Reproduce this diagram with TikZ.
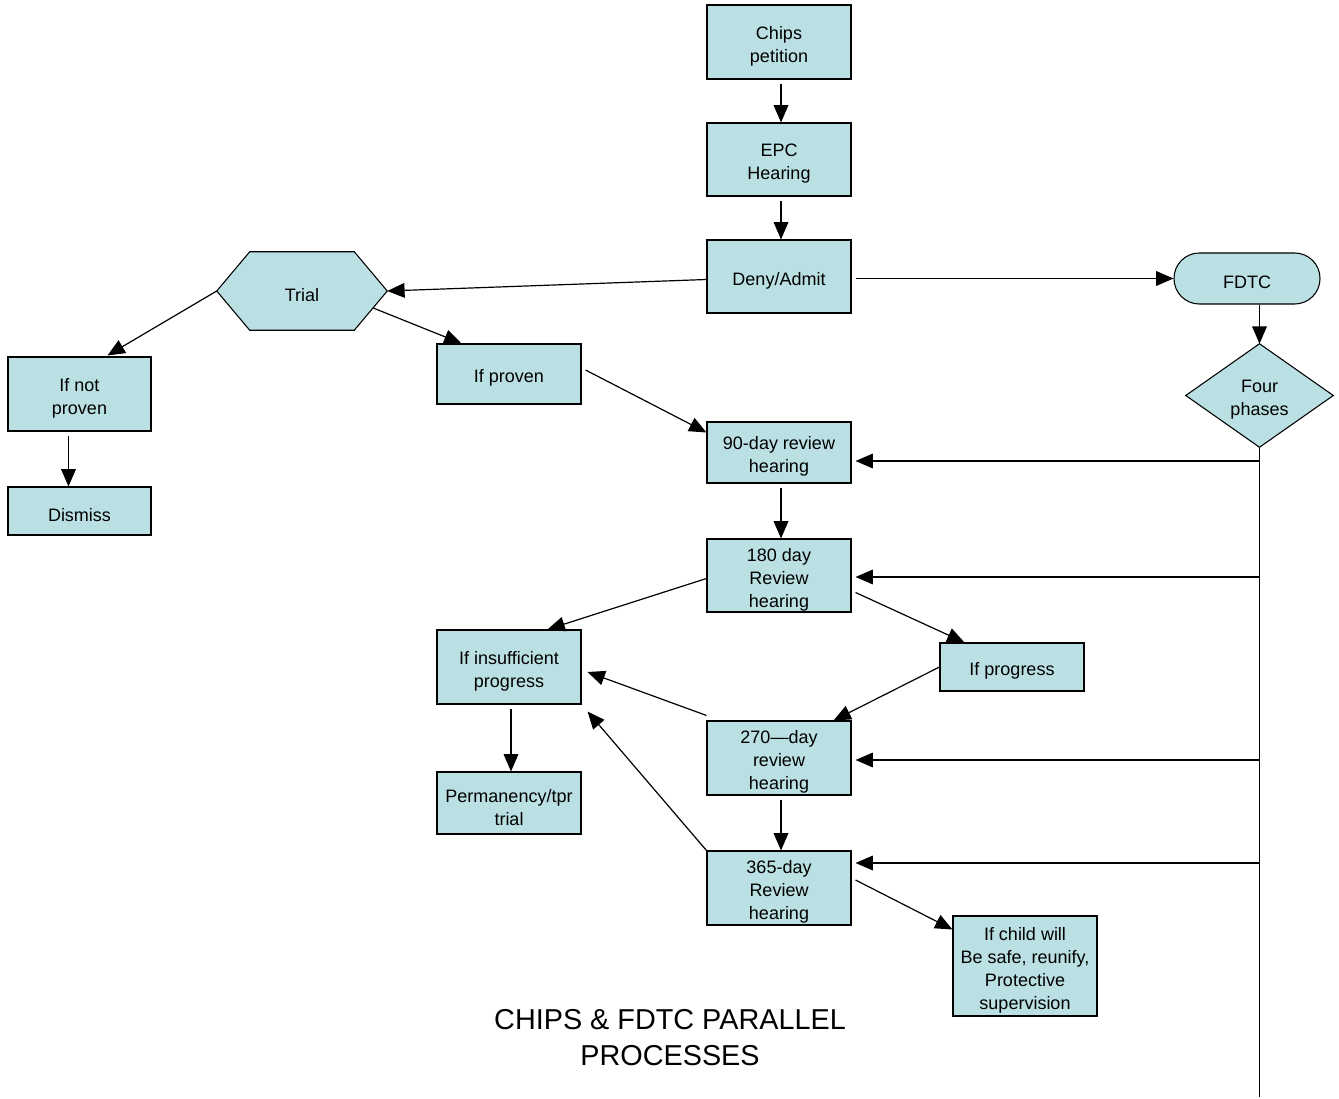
\documentclass[tikz,border=0pt]{standalone}
\usepackage{fontspec}
\setmainfont{Liberation Sans}
\usetikzlibrary{arrows.meta,calc}
\definecolor{boxfill}{RGB}{187,224,227}
\begin{document}
\begin{tikzpicture}[x=0.75pt,y=-0.75pt,
  every node/.style={font=\fontsize{13.5pt}{17.25pt}\selectfont, align=center, inner sep=0pt},
  box/.style={draw=black, line width=0.8pt, fill=boxfill, minimum width=108pt},
  lbl/.style={yshift=-3.2pt},
  conn/.style={line width=0.9pt, -{Triangle[length=13pt,width=11pt]}},
  plain/.style={line width=0.9pt}
]
\useasboundingbox (0,0) rectangle (1339,1099);

% nodes
\node[box, minimum height=55.5pt, label={[lbl]center:{Chips\\petition}}] (chips) at (779,42) {};
\node[box, minimum height=54.75pt, label={[lbl]center:{EPC\\Hearing}}] (epc) at (779,159.5) {};
\node[box, minimum height=54.75pt, label={[lbl]center:{Deny/Admit}}] (deny) at (779,276.5) {};
\node[minimum width=127.5pt, minimum height=58.5pt] (trial) at (302,291) {};
\filldraw[draw=black, line width=0.8pt, fill=boxfill]
  (trial.west) -- ($(trial.north west)+(33,0)$) -- ($(trial.north east)+(-33,0)$) --
  (trial.east) -- ($(trial.south east)+(-33,0)$) -- ($(trial.south west)+(33,0)$) -- cycle;
\node[lbl] at (trial.center) {Trial};
\node[box, minimum width=109.5pt, minimum height=38.25pt, rounded corners=19pt, label={[lbl]center:{FDTC}}] (fdtc) at (1247,278.5) {};
\node[minimum width=110.25pt, minimum height=77.25pt] (four) at (1259.5,395.5) {};
\filldraw[draw=black, line width=0.8pt, fill=boxfill]
  (four.west) -- (four.north) -- (four.east) -- (four.south) -- cycle;
\node[lbl] at (four.center) {Four\\phases};
\node[box, minimum width=107.25pt, minimum height=55.5pt, label={[lbl]center:{If not\\proven}}] (ifnot) at (79.5,394) {};
\node[box, minimum width=107.25pt, minimum height=36pt, label={[lbl]center:{Dismiss}}] (dismiss) at (79.5,511) {};
\node[box, minimum height=45pt, label={[lbl]center:{If proven}}] (ifproven) at (509,374) {};
\node[box, minimum height=45.75pt, label={[lbl]center:{90-day review\\hearing}}] (d90) at (779,452.5) {};
\node[box, minimum height=54.75pt, label={[lbl]center:{180 day\\Review\\hearing}}] (d180) at (779,575.5) {};
\node[box, minimum height=55.5pt, label={[lbl]center:{If insufficient\\progress}}] (insuff) at (509,667) {};
\node[box, minimum height=36pt, label={[lbl]center:{If progress}}] (progress) at (1012,667) {};
\node[box, minimum height=55.5pt, label={[lbl]center:{270---day\\review\\hearing}}] (d270) at (779,758) {};
\node[box, minimum height=46.5pt, label={[lbl]center:{Permanency/tpr\\trial}}] (perm) at (509,803) {};
\node[box, minimum height=55.5pt, label={[lbl]center:{365-day\\Review\\hearing}}] (d365) at (779,888) {};
\node[box, minimum height=75pt, label={[lbl]center:{If child will\\Be safe, reunify,\\Protective\\supervision}}] (child) at (1025,966) {};
\node[font=\fontsize{21.6pt}{27pt}\selectfont] (title) at (670,1038) {CHIPS \& FDTC PARALLEL\\PROCESSES};

% phase line
\coordinate (lineend) at ($(four.south)+(0,650)$);
\draw[plain] (four.south) -- (lineend);
\coordinate (p90) at (four.south |- {(0,461)});
\coordinate (p180) at (four.south |- {(0,577)});
\coordinate (p270) at (four.south |- {(0,760)});
\coordinate (p365) at (four.south |- {(0,863)});
\draw[conn] (p90) -- ($(d90.east |- p90)+(4,0)$);
\draw[conn] (p180) -- ($(d180.east |- p180)+(4,0)$);
\draw[conn] (p270) -- ($(d270.east |- p270)+(4,0)$);
\draw[conn] (p365) -- ($(d365.east |- p365)+(4,0)$);

% connectors
\draw[conn] ($(chips.south)+(2,4)$) -- ($(epc.north)+(2,0)$);
\draw[conn] ($(epc.south)+(2,4)$) -- ($(deny.north)+(2,0)$);
\draw[conn] ($(deny.west)+(0,3)$) -- (trial.east);
\draw[conn] ($(deny.east)+(4,2)$) -- (fdtc.west);
\draw[conn] (four.north |- fdtc.south) -- (four.north);
\draw[conn] (trial.west) -- ($(ifnot.north west)+(100,-1)$);
\draw[conn] ($(ifnot.south)+(-11,4)$) -- ($(dismiss.north)+(-11,0)$);
\draw[conn] ($(trial.east)+(-14,17)$) -- ($(ifproven.north west)+(25,0)$);
\draw[conn] ($(ifproven.east)+(4,-4)$) -- ($(d90.north west)+(0,11)$);
\draw[conn] ($(d90.south)+(2,4)$) -- ($(d180.north)+(2,0)$);
\draw[conn] ($(d180.west)+(0,3)$) -- ($(insuff.north west)+(111,0)$);
\draw[conn] ($(d180.east)+(4,17)$) -- ($(progress.north west)+(25,0)$);
\draw[conn] (progress.west) -- ($(d270.north east)+(-18,0)$);
\draw[conn] ($(d270.north west)+(0,-5)$) -- ($(insuff.east)+(6,5)$);
\draw[conn] (d365.north west) -- ($(insuff.south east)+(6,7)$);
\draw[conn] ($(insuff.south)+(2,4)$) -- ($(perm.north)+(2,0)$);
\draw[conn] ($(d270.south)+(2,4)$) -- ($(d365.north)+(2,0)$);
\draw[conn] ($(d365.east)+(4,-8)$) -- ($(child.north west)+(0,14)$);
\end{tikzpicture}
\end{document}
